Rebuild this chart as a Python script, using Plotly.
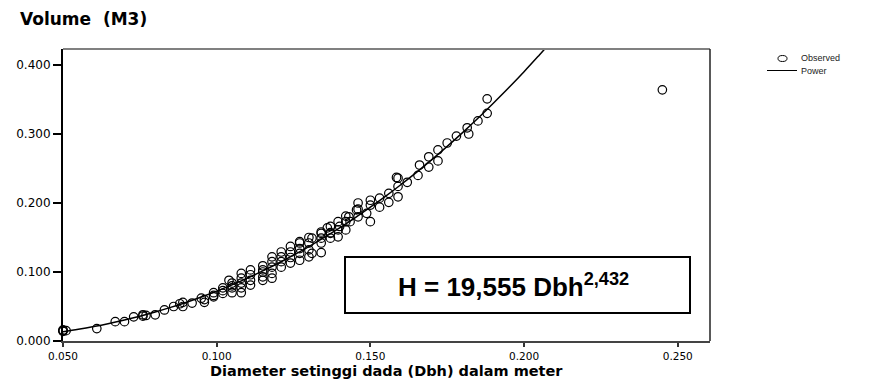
import plotly.graph_objects as go

# Observed data (Dbh in m, Volume in m3)
obs_dbh = [0.050, 0.050, 0.050, 0.051, 0.061, 0.067, 0.070, 0.073, 0.076, 0.076, 0.077,
           0.080, 0.083, 0.086, 0.088, 0.089, 0.089, 0.092, 0.095, 0.096, 0.096,
           0.099, 0.099, 0.099, 0.102, 0.102, 0.102,
           0.104, 0.105, 0.105, 0.105, 0.105,
           0.108, 0.108, 0.108, 0.108, 0.108,
           0.111, 0.111, 0.111, 0.111,
           0.115, 0.115, 0.115, 0.115, 0.115,
           0.118, 0.118, 0.118, 0.118, 0.118,
           0.121, 0.121, 0.121, 0.121,
           0.124, 0.124, 0.124, 0.124,
           0.127, 0.127, 0.127, 0.127, 0.127,
           0.130, 0.130, 0.130, 0.130, 0.131, 0.131,
           0.134, 0.134, 0.134, 0.134, 0.134,
           0.137, 0.137, 0.137, 0.136, 0.137,
           0.1395, 0.1395, 0.1395, 0.140,
           0.142, 0.142, 0.142, 0.143, 0.1434,
           0.146, 0.146, 0.1455, 0.146,
           0.150, 0.150, 0.150, 0.1488,
           0.153, 0.153, 0.156, 0.156,
           0.159, 0.159, 0.159, 0.1585,
           0.162, 0.1655, 0.166, 0.169, 0.169, 0.172, 0.172, 0.175, 0.178,
           0.1815, 0.182, 0.185, 0.188, 0.188,
           0.245]
obs_vol = [0.014, 0.015, 0.016, 0.015, 0.018, 0.028, 0.028, 0.035, 0.036, 0.038, 0.037,
           0.038, 0.045, 0.050, 0.054, 0.056, 0.050, 0.055, 0.062, 0.056, 0.060,
           0.070, 0.064, 0.066, 0.077, 0.069, 0.073,
           0.088, 0.084, 0.077, 0.070, 0.080,
           0.098, 0.091, 0.084, 0.077, 0.070,
           0.103, 0.096, 0.088, 0.081,
           0.109, 0.103, 0.093, 0.088, 0.100,
           0.122, 0.115, 0.107, 0.098, 0.091,
           0.129, 0.122, 0.115, 0.107,
           0.137, 0.129, 0.121, 0.113,
           0.144, 0.134, 0.127, 0.117, 0.142,
           0.150, 0.142, 0.132, 0.122, 0.127, 0.149,
           0.158, 0.149, 0.142, 0.128, 0.156,
           0.166, 0.157, 0.149, 0.164, 0.156,
           0.173, 0.161, 0.151, 0.166,
           0.181, 0.173, 0.161, 0.180, 0.173,
           0.200, 0.191, 0.190, 0.180,
           0.197, 0.204, 0.173, 0.185,
           0.194, 0.207, 0.214, 0.201,
           0.236, 0.224, 0.209, 0.237,
           0.230, 0.240, 0.255, 0.267, 0.252, 0.261, 0.277, 0.287, 0.297,
           0.309, 0.300, 0.319, 0.330, 0.351,
           0.364]

# Fitted power curve (H = 19,555 Dbh^2,432)
fit_dbh = [0.050, 0.055, 0.060, 0.065, 0.070, 0.075, 0.080, 0.085, 0.090, 0.095, 0.100,
           0.105, 0.110, 0.115, 0.120, 0.125, 0.130, 0.135, 0.140, 0.145, 0.150,
           0.155, 0.160, 0.165, 0.170, 0.175, 0.180, 0.185, 0.190, 0.195, 0.200,
           0.205, 0.210]
fit_vol = [0.0134, 0.0169, 0.0209, 0.0254, 0.0304, 0.0359, 0.0420, 0.0487, 0.0559, 0.0638, 0.0723,
           0.0814, 0.0912, 0.1016, 0.1127, 0.1245, 0.1369, 0.1501, 0.1640, 0.1785, 0.1939,
           0.2099, 0.2268, 0.2444, 0.2628, 0.2820, 0.3020, 0.3228, 0.3446, 0.3670, 0.3903,
           0.4146, 0.4394]

x_ticks = [0.05, 0.10, 0.15, 0.20, 0.25]
x_tick_text = ["0.050", "0.100", "0.150", "0.200", "0.250"]
y_ticks = [0.0, 0.1, 0.2, 0.3, 0.4]
y_tick_text = ["0.000", "0.100", "0.200", "0.300", "0.400"]

x_title = "Diameter setinggi dada (Dbh) dalam meter"
y_title = "Volume  (M3)"
equation_text = "H = 19,555 Dbh<sup>2,432</sup>"

# page body has an 8px margin: the figure is drawn at (8, 8) in the window
OFF = 8
W, H = 873 - OFF, 380 - OFF
L, R, T, B = 63 - OFF, 873 - 710, 49 - OFF, H - (341 - OFF)
pw, ph = W - L - R, H - T - B


def px(xw):
    """window x pixel -> paper x"""
    return (xw - OFF - L) / pw


def py(yw):
    """window y pixel -> paper y"""
    return (H - B - (yw - OFF)) / ph


fig = go.Figure()
fig.add_trace(go.Scatter(
    x=fit_dbh, y=fit_vol, mode="lines", name="Power",
    line=dict(color="black", width=1.5, shape="spline"),
    hoverinfo="skip", showlegend=False,
))
fig.add_trace(go.Scatter(
    x=obs_dbh, y=obs_vol, mode="markers", name="Observed",
    marker=dict(symbol="circle-open", size=8.5, color="black", line=dict(width=1.2, color="black")),
    cliponaxis=False, hoverinfo="skip", showlegend=False,
))

shapes = [
    # top & right frame
    dict(type="line", xref="paper", yref="paper", x0=0, x1=1, y0=1, y1=1,
         line=dict(color="#808080", width=2)),
    dict(type="line", xref="paper", yref="paper", x0=1, x1=1, y0=0, y1=1,
         line=dict(color="#222222", width=1.5)),
    # equation box
    dict(type="rect", xref="paper", yref="paper",
         x0=px(345), x1=px(690), y0=py(313), y1=py(257),
         line=dict(color="black", width=2), fillcolor="white"),
    # legend symbols
    dict(type="circle", xref="paper", yref="paper",
         x0=px(778), x1=px(787), y0=py(61.5), y1=py(55.5),
         line=dict(color="black", width=1)),
    dict(type="line", xref="paper", yref="paper",
         x0=px(767), x1=px(797), y0=py(70.5), y1=py(70.5),
         line=dict(color="black", width=1)),
]

annotations = [
    dict(text=y_title, xref="paper", yref="paper", x=px(18), y=py(19),
         xanchor="left", yanchor="middle", showarrow=False,
         font=dict(family="DejaVu Sans", size=17, color="black", weight="bold")),
    dict(text=x_title, xref="paper", yref="paper", x=px(386), y=py(371),
         xanchor="center", yanchor="middle", showarrow=False,
         font=dict(family="DejaVu Sans", size=14.5, color="black", weight="bold")),
    dict(text=equation_text, xref="paper", yref="paper", x=px(513), y=py(285),
         xanchor="center", yanchor="middle", showarrow=False,
         font=dict(family="Liberation Sans", size=26, color="black", weight="bold")),
    dict(text="Observed", xref="paper", yref="paper", x=px(799), y=py(58.5),
         xanchor="left", yanchor="middle", showarrow=False,
         font=dict(family="Liberation Sans", size=9, color="#222222")),
    dict(text="Power", xref="paper", yref="paper", x=px(799), y=py(70.5),
         xanchor="left", yanchor="middle", showarrow=False,
         font=dict(family="Liberation Sans", size=9, color="#222222")),
]

fig.update_layout(
    width=W, height=H,
    margin=dict(l=L, r=R, t=T, b=B, autoexpand=False),
    paper_bgcolor="white", plot_bgcolor="white",
    showlegend=False,
    hovermode=False,
    shapes=shapes,
    annotations=annotations,
    xaxis=dict(
        range=[0.05, 0.2605], tickvals=x_ticks, ticktext=x_tick_text,
        automargin=False,
        showgrid=False, zeroline=False,
        showline=True, linecolor="#444444", linewidth=2,
        ticks="outside", ticklen=4, tickwidth=1.5, tickcolor="#333333",
        tickfont=dict(family="DejaVu Sans", size=10.5, color="black"),
    ),
    yaxis=dict(
        range=[0, 0.4232], tickvals=y_ticks, ticktext=y_tick_text,
        automargin=False,
        showgrid=False, zeroline=False,
        showline=True, linecolor="black", linewidth=2,
        ticks="outside", ticklen=8, tickwidth=1.5, tickcolor="black",
        tickfont=dict(family="DejaVu Sans", size=12, color="black"),
    ),
)

fig.write_html("out.html")
